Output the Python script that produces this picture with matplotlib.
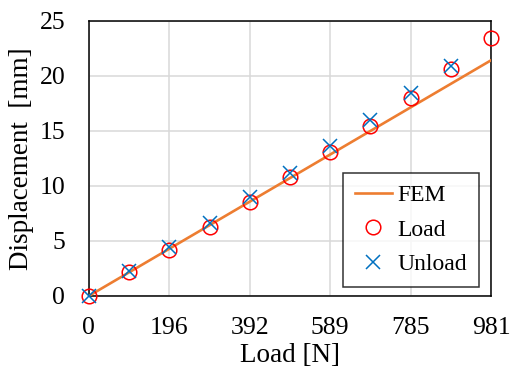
import numpy as np
import matplotlib.pyplot as plt

plt.rcParams['font.family'] = ['Liberation Serif', 'DejaVu Serif']

# data
load = [0, 98.1, 196.2, 294.3, 392.4, 490.5, 588.6, 686.7, 784.8, 882.9, 981]
disp_load = [0, 2.13, 4.15, 6.27, 8.55, 10.8, 13.1, 15.4, 18.0, 20.6, 23.45]
unload = [0, 98.1, 196.2, 294.3, 392.4, 490.5, 588.6, 686.7, 784.8, 882.9]
disp_unload = [0, 2.25, 4.4, 6.6, 8.95, 11.2, 13.6, 16.0, 18.4, 20.9]
fem_x = [0, 981]
fem_y = [0, 21.4]
xticks = [0, 196.2, 392.4, 588.6, 784.8, 981]
xticklabels = ['0', '196', '392', '589', '785', '981']

fig = plt.figure(figsize=(5.11, 3.75), dpi=100)
ax = fig.add_axes([0.174, 0.211, 0.787, 0.734])

ax.plot(fem_x, fem_y, color='#ED7D31', lw=1.9, label='FEM', zorder=3)
ax.plot(load, disp_load, 'o', ms=10.5, mfc='none', mec='#FF0000', mew=1.1,
        label='Load', clip_on=False, zorder=4)
ax.plot(unload, disp_unload, 'x', ms=10, mec='#0070C0', mew=1.1,
        label='Unload', clip_on=False, zorder=5)

ax.set_xlim(0, 981)
ax.set_ylim(0, 25)
ax.set_xticks(xticks)
ax.set_xticklabels(xticklabels)
ax.set_yticks([0, 5, 10, 15, 20, 25])
ax.tick_params(length=0, labelsize=18.5)
ax.tick_params(axis='x', pad=15)
ax.tick_params(axis='y', pad=17)
ax.grid(True, color='#d9d9d9', lw=1.1)
ax.set_axisbelow(True)
for s in ax.spines.values():
    s.set_linewidth(1.1)
    s.set_color('black')

ax.set_xlabel('Load [N]', fontsize=19.5, labelpad=3)
ax.set_ylabel('Displacement  [mm]', fontsize=19.5, labelpad=4)

leg = ax.legend(loc='lower right', bbox_to_anchor=(0.97, 0.032), fontsize=17,
                frameon=True, fancybox=False, edgecolor='black',
                borderpad=0.5, handlelength=1.55, labelspacing=0.55,
                handletextpad=0.25, borderaxespad=0)
leg.get_frame().set_linewidth(1.1)

fig.savefig('out.png', dpi=100)
